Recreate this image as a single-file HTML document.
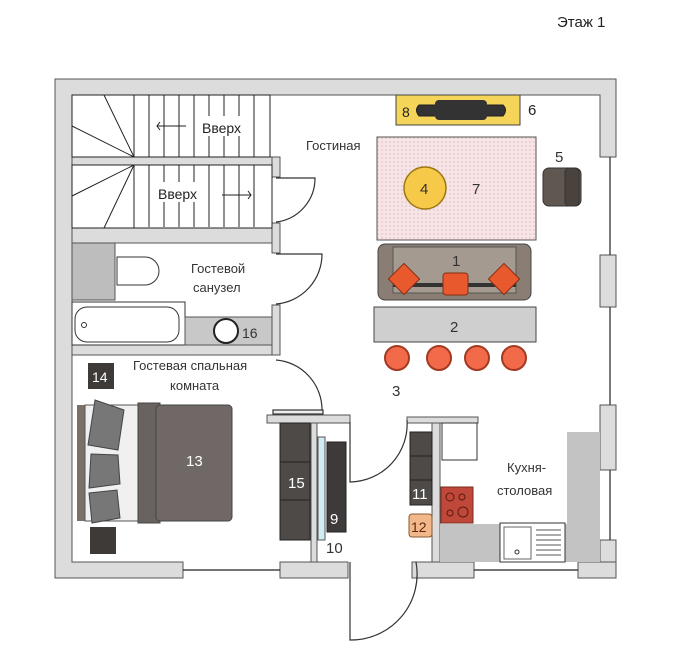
<!DOCTYPE html>
<html><head><meta charset="utf-8"><style>
html,body{margin:0;padding:0;background:#fff;}
svg{display:block;}
text{font-family:"Liberation Sans","DejaVu Sans",sans-serif;}
</style></head><body>
<svg width="695" height="655" viewBox="0 0 695 655" xmlns="http://www.w3.org/2000/svg">
<defs>
<pattern id="rug" width="4" height="4" patternUnits="userSpaceOnUse"><rect width="4" height="4" fill="#f6e4e6"/><circle cx="2" cy="2" r="0.8" fill="#e2bcc0"/></pattern>
</defs>
<text x="557" y="27" font-size="15" fill="#222">Этаж 1</text>
<g fill="#dcdcdc" stroke="#555" stroke-width="1">
<!-- outer walls -->
<path d="M55 79 H616 V157 H600 V95 H72 V562 H183 V578 H55 Z"/>
<rect x="600" y="255" width="16" height="52"/>
<rect x="600" y="405" width="16" height="65"/>
<rect x="600" y="540" width="16" height="38"/>
<rect x="280" y="562" width="68" height="16"/>
<rect x="412" y="562" width="62" height="16"/>
<rect x="578" y="562" width="38" height="16"/>
<!-- stairs walls -->
<rect x="72" y="157" width="200" height="8"/>
<rect x="72" y="228" width="200" height="15"/>
<rect x="272" y="157" width="8" height="20"/>
<rect x="272" y="223" width="8" height="30"/>
<rect x="272" y="305" width="8" height="50"/>
<rect x="72" y="345" width="200" height="10"/>
<!-- closet/kitchen walls -->
<rect x="267" y="415" width="83" height="8"/>
<rect x="311" y="423" width="6" height="139"/>
<rect x="407" y="417" width="71" height="6"/>
<rect x="432" y="423" width="8" height="139"/>
</g>
<!-- windows -->
<g stroke="#222" stroke-width="1.2">
<line x1="610" y1="157" x2="610" y2="255"/>
<line x1="610" y1="307" x2="610" y2="405"/>
<line x1="610" y1="470" x2="610" y2="540"/>
<line x1="183" y1="570" x2="280" y2="570"/>
<line x1="474" y1="570" x2="578" y2="570"/>
</g>
<!-- stairs -->
<g stroke="#222" stroke-width="1" fill="none">
<rect x="72" y="95" width="198" height="62"/>
<rect x="72" y="165" width="200" height="63"/>
<line x1="134" y1="95" x2="134" y2="157"/>
<line x1="104" y1="95" x2="134" y2="157"/><line x1="72" y1="126" x2="134" y2="157"/>
<line x1="134" y1="165" x2="72" y2="196"/><line x1="134" y1="165" x2="104" y2="228"/>
<line x1="134" y1="165" x2="134" y2="228"/>
<g id="st"><line x1="149" y1="95" x2="149" y2="157"/><line x1="164" y1="95" x2="164" y2="157"/><line x1="179" y1="95" x2="179" y2="157"/><line x1="194" y1="95" x2="194" y2="157"/><line x1="209" y1="95" x2="209" y2="157"/><line x1="224" y1="95" x2="224" y2="157"/><line x1="239" y1="95" x2="239" y2="157"/><line x1="254" y1="95" x2="254" y2="157"/></g>
<use href="#st" transform="translate(0,70)" />
<line x1="157" y1="126" x2="186" y2="126"/><path d="M160 122 L157 126 L160 130"/>
<line x1="222" y1="195" x2="251" y2="195"/><path d="M248 191 L251 195 L248 199"/>
</g>
<rect x="154" y="182" width="54" height="20" fill="#fff"/>
<rect x="198" y="116" width="54" height="20" fill="#fff"/>
<text x="202" y="133" font-size="14" fill="#222">Вверх</text>
<text x="158" y="199" font-size="14" fill="#222">Вверх</text>
<!-- doors -->
<g stroke="#333" stroke-width="1.2" fill="none">
<path d="M276 178 H315 A44 44 0 0 1 276 222"/>
<path d="M276 254 H322 A50 50 0 0 1 276 304"/>
<path d="M276 360 A50 50 0 0 1 322 410"/>
<rect x="273" y="410" width="50" height="4" fill="#eee"/>
<path d="M350 422 V482 A58 58 0 0 0 407 420"/>
<path d="M350 562 V640 A66 66 0 0 0 416 562"/>
</g>
<!-- bathroom -->
<rect x="72" y="243" width="43" height="57" fill="#bdbdbd" stroke="#555"/>
<path d="M117 257 H145 A14 14 0 0 1 145 285 H117 Z" fill="#fff" stroke="#333"/>
<rect x="72" y="302" width="113" height="43" fill="#fff" stroke="#333"/>
<rect x="75" y="307" width="104" height="35" rx="12" fill="#fff" stroke="#333"/>
<circle cx="84" cy="325" r="2.5" fill="none" stroke="#333"/>
<rect x="185" y="317" width="87" height="28" fill="#c8c8c8" stroke="#555"/>
<circle cx="226" cy="331" r="12" fill="#fff" stroke="#222" stroke-width="2"/>
<text x="242" y="338" font-size="14" fill="#333">16</text>
<text x="191" y="273" font-size="13" fill="#333">Гостевой</text>
<text x="193" y="292" font-size="13" fill="#333">санузел</text>
<text x="306" y="150" font-size="13" fill="#333">Гостиная</text>
<!-- living -->
<rect x="396" y="95" width="124" height="30" fill="#f5d45a" stroke="#444"/>
<path d="M419 105 H503 Q508 110 503 116 H419 Q414 110 419 105 Z" fill="#333" stroke="#222"/>
<rect x="435" y="100" width="52" height="20" rx="4" fill="#333"/>
<text x="402" y="117" font-size="14" fill="#222">8</text>
<text x="528" y="115" font-size="15" fill="#222">6</text>
<rect x="377" y="137" width="159" height="103" fill="url(#rug)" stroke="#555"/>
<circle cx="425" cy="188" r="21" fill="#f7c948" stroke="#9a7a10" stroke-width="1.5"/>
<text x="420" y="194" font-size="15" fill="#333">4</text>
<text x="472" y="194" font-size="15" fill="#333">7</text>
<text x="555" y="162" font-size="15" fill="#333">5</text>
<rect x="543" y="168" width="38" height="38" rx="6" fill="#5f5750" stroke="#333"/>
<rect x="565" y="168" width="14" height="38" rx="4" fill="#4a423c" stroke="#333"/>
<rect x="378" y="244" width="153" height="56" rx="7" fill="#8a7e74" stroke="#444"/>
<rect x="393" y="247" width="123" height="46" fill="#a49a90" stroke="#555"/>
<rect x="393" y="283" width="123" height="4" fill="#333"/>
<g fill="#e85a2e" stroke="#8a2a10">
<rect x="393" y="268" width="22" height="22" transform="rotate(45 404 279)"/>
<rect x="443" y="273" width="25" height="22" rx="3"/>
<rect x="493" y="268" width="22" height="22" transform="rotate(45 504 279)"/>
</g>
<text x="452" y="266" font-size="15" fill="#333">1</text>
<rect x="374" y="307" width="162" height="35" fill="#cfcfcf" stroke="#444"/>
<text x="450" y="332" font-size="15" fill="#333">2</text>
<g fill="#f26a4a" stroke="#a23a22" stroke-width="2">
<circle cx="397" cy="358" r="12"/><circle cx="439" cy="358" r="12"/><circle cx="477" cy="358" r="12"/><circle cx="514" cy="358" r="12"/>
</g>
<text x="392" y="396" font-size="15" fill="#333">3</text>
<!-- bedroom -->
<rect x="88" y="363" width="26" height="26" fill="#3e3a37"/>
<text x="92" y="382" font-size="14" fill="#fff">14</text>
<text x="133" y="370" font-size="13" fill="#333">Гостевая спальная</text>
<text x="170" y="390" font-size="13" fill="#333">комната</text>
<rect x="77" y="405" width="8" height="116" fill="#7a706a"/>
<rect x="85" y="405" width="55" height="116" fill="#f0f0f0" stroke="#555"/>
<rect x="138" y="403" width="22" height="120" fill="#6a625e" stroke="#444"/>
<rect x="156" y="405" width="76" height="116" rx="4" fill="#706866" stroke="#444"/>
<g fill="#777" stroke="#444">
<path d="M95 400 L124 410 L118 450 L88 445 Z"/>
<path d="M91 454 L118 455 L120 484 L89 488 Z"/>
<path d="M89 493 L117 490 L120 518 L92 523 Z"/>
</g>
<text x="186" y="466" font-size="15" fill="#fff">13</text>
<rect x="90" y="527" width="26" height="27" fill="#3e3a37"/>
<!-- closet -->
<rect x="280" y="423" width="30" height="117" fill="#4e4a47" stroke="#222"/>
<line x1="280" y1="462" x2="310" y2="462" stroke="#222"/><line x1="280" y1="500" x2="310" y2="500" stroke="#222"/>
<text x="288" y="488" font-size="15" fill="#fff">15</text>
<rect x="318" y="437" width="7" height="103" fill="#d3ecf4" stroke="#555"/>
<rect x="327" y="442" width="19" height="90" fill="#3d3a39" stroke="#222"/>
<text x="330" y="524" font-size="15" fill="#fff">9</text>
<text x="326" y="553" font-size="15" fill="#333">10</text>
<!-- kitchen -->
<rect x="410" y="432" width="22" height="73" fill="#4e4a47" stroke="#222"/>
<line x1="410" y1="456" x2="432" y2="456" stroke="#222"/><line x1="410" y1="480" x2="432" y2="480" stroke="#222"/>
<text x="412" y="499" font-size="15" fill="#fff">11</text>
<rect x="409" y="514" width="23" height="23" rx="3" fill="#f3b88a" stroke="#8a5a30"/>
<text x="411" y="532" font-size="14" fill="#5a2a10">12</text>
<rect x="442" y="423" width="35" height="37" fill="#fff" stroke="#333"/>
<rect x="440" y="524" width="127" height="38" fill="#c3c3c3"/>
<rect x="567" y="432" width="33" height="130" fill="#c3c3c3"/>
<rect x="441" y="487" width="32" height="36" fill="#c0483a" stroke="#7a2a20"/>
<g fill="none" stroke="#5a1a10"><circle cx="450" cy="497" r="4"/><circle cx="462" cy="497" r="3"/><circle cx="450" cy="513" r="3"/><circle cx="463" cy="512" r="5"/></g>
<rect x="500" y="523" width="65" height="39" fill="#fff" stroke="#333"/>
<rect x="504" y="527" width="27" height="32" fill="#fff" stroke="#666"/>
<circle cx="517" cy="552" r="2" fill="none" stroke="#333"/>
<g stroke="#555"><line x1="536" y1="530" x2="561" y2="530"/><line x1="536" y1="535" x2="561" y2="535"/><line x1="536" y1="540" x2="561" y2="540"/><line x1="536" y1="545" x2="561" y2="545"/><line x1="536" y1="550" x2="561" y2="550"/><line x1="536" y1="555" x2="561" y2="555"/></g>
<text x="507" y="472" font-size="13" fill="#333">Кухня-</text>
<text x="497" y="495" font-size="13" fill="#333">столовая</text>
</svg>
</body></html>
